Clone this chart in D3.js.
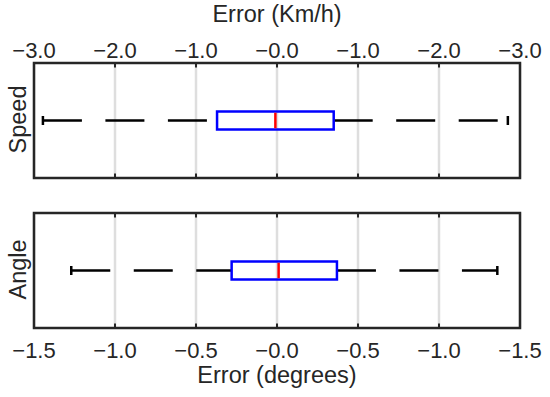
<!DOCTYPE html>
<html><head><meta charset="utf-8">
<script src="https://cdn.jsdelivr.net/npm/d3@7"></script>
<style>body{margin:0;background:#fff}text{font-family:"Liberation Sans",Arial,sans-serif;fill:#262626}</style>
</head><body><svg id="c" width="550" height="397"></svg>
<script>
const panels = ["Speed", "Angle"];
const whiskerLo = [-2.89, -1.27];
const q1 = [-0.74, -0.28];
const median = [-0.02, 0.01];
const q3 = [0.70, 0.37];
const whiskerHi = [2.85, 1.36];
const speedTicks = [-3, -2, -1, 0, 1, 2, 3];
const speedTickLabels = ["−3.0", "−2.0", "−1.0", "−0.0", "−1.0", "−2.0", "−3.0"];
const angleTicks = [-1.5, -1.0, -0.5, 0, 0.5, 1.0, 1.5];
const angleTickLabels = ["−1.5", "−1.0", "−0.5", "−0.0", "−0.5", "−1.0", "−1.5"];
const domains = [[-3, 3], [-1.5, 1.5]];

const svg = d3.select("#c");
const L = 34, R = 520;
const panelY = [[63, 178], [213, 328]];
const ink = "#262626";

panels.forEach((name, i) => {
  const [top, bot] = panelY[i];
  const x = d3.scaleLinear().domain(domains[i]).range([L, R]);
  const y = d3.scaleBand().domain([name]).range([top, bot]);
  const ticks = i === 0 ? speedTicks : angleTicks;
  const labels = i === 0 ? speedTickLabels : angleTickLabels;
  const g = svg.append("g");
  g.selectAll(".grid").data(ticks).enter().append("line")
    .attr("x1", d => x(d)).attr("x2", d => x(d)).attr("y1", top).attr("y2", bot)
    .attr("stroke", "#dedede").attr("stroke-width", 2.5);
  ["top", "bot"].forEach(side => {
    g.selectAll(".t" + side).data(ticks).enter().append("line")
      .attr("x1", d => x(d)).attr("x2", d => x(d))
      .attr("y1", side === "top" ? top : bot).attr("y2", side === "top" ? top + 4.5 : bot - 4.5)
      .attr("stroke", ink).attr("stroke-width", 2);
  });
  const cy = y(name) + y.bandwidth() / 2;
  const bh = 18;
  g.append("line").attr("x1", x(whiskerLo[i])).attr("x2", x(q1[i])).attr("y1", cy).attr("y2", cy)
    .attr("stroke", "#000").attr("stroke-width", 2.5).attr("stroke-dasharray", "39,23.5");
  g.append("line").attr("x1", x(q3[i])).attr("x2", x(whiskerHi[i])).attr("y1", cy).attr("y2", cy)
    .attr("stroke", "#000").attr("stroke-width", 2.5).attr("stroke-dasharray", "39,23.5");
  [whiskerLo[i], whiskerHi[i]].forEach(v => {
    g.append("line").attr("x1", x(v)).attr("x2", x(v)).attr("y1", cy - 4.5).attr("y2", cy + 4.5)
      .attr("stroke", "#000").attr("stroke-width", 2.5);
  });
  g.append("rect").attr("x", x(q1[i])).attr("width", x(q3[i]) - x(q1[i]))
    .attr("y", cy - bh / 2).attr("height", bh)
    .attr("fill", "none").attr("stroke", "#0000ff").attr("stroke-width", 2.5);
  g.append("line").attr("x1", x(median[i])).attr("x2", x(median[i])).attr("y1", cy - bh / 2 + 1.25).attr("y2", cy + bh / 2 - 1.25)
    .attr("stroke", "#ff0000").attr("stroke-width", 2.5);
  g.append("rect").attr("x", L).attr("y", top).attr("width", R - L).attr("height", bot - top)
    .attr("fill", "none").attr("stroke", ink).attr("stroke-width", 2.5);
  g.selectAll(".lab").data(ticks).enter().append("text")
    .attr("x", d => x(d)).attr("y", i === 0 ? 58 : 358)
    .attr("text-anchor", "middle").attr("font-size", 22)
    .text((d, j) => labels[j]);
  g.append("text").attr("transform", `translate(26,${cy - 1}) rotate(-90)`)
    .attr("text-anchor", "middle").attr("font-size", 23.5).text(name);
});
svg.append("text").attr("x", 277).attr("y", 22).attr("text-anchor", "middle").attr("font-size", 23.5).text("Error (Km/h)");
svg.append("text").attr("x", 277).attr("y", 383).attr("text-anchor", "middle").attr("font-size", 23.5).text("Error (degrees)");
</script></body></html>
